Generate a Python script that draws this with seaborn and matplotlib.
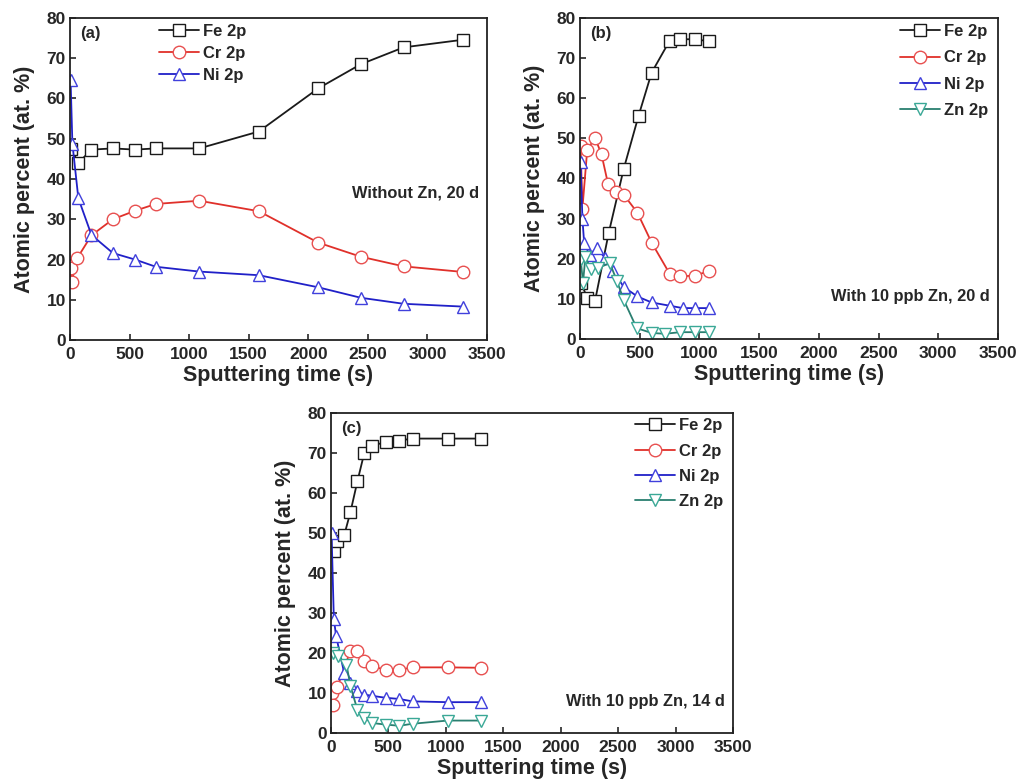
import matplotlib
matplotlib.use("Agg")
import matplotlib.pyplot as plt
import seaborn as sns

sns.set_style("ticks")
plt.rcParams['font.family'] = ['Liberation Sans', 'DejaVu Sans']
plt.rcParams['font.weight'] = 'bold'
plt.rcParams['axes.labelweight'] = 'bold'
plt.rcParams['xtick.direction'] = 'in'
plt.rcParams['ytick.direction'] = 'in'

# ---------------- data ----------------
# Panel (a): without Zn, 20 d
a_fe_t = [10, 70, 180, 360, 545, 720, 1085, 1585, 2083, 2440, 2800, 3300]
a_fe_v = [47.5, 44.0, 47.3, 47.6, 47.3, 47.6, 47.6, 51.8, 62.5, 68.5, 72.7, 74.6]
a_cr_t = [5, 15, 60, 180, 360, 545, 720, 1085, 1585, 2083, 2440, 2800, 3300]
a_cr_v = [18.0, 14.5, 20.3, 26.0, 30.0, 32.1, 33.8, 34.6, 32.0, 24.2, 20.7, 18.3, 16.9]
a_ni_t = [5, 20, 70, 180, 360, 545, 720, 1085, 1585, 2083, 2440, 2800, 3300]
a_ni_v = [64.5, 48.8, 35.2, 26.1, 21.6, 20.0, 18.2, 17.0, 16.1, 13.1, 10.5, 9.0, 8.3]

# Panel (b): with 10 ppb Zn, 20 d
b_fe_t = [10, 60, 125, 240, 365, 490, 600, 750, 840, 960, 1080]
b_fe_v = [14.0, 10.2, 9.4, 26.4, 42.3, 55.6, 66.4, 74.3, 74.7, 74.7, 74.2]
b_cr_t = [5, 20, 60, 125, 180, 235, 300, 365, 480, 600, 750, 840, 960, 1080]
b_cr_v = [48.0, 32.5, 47.0, 50.2, 46.0, 38.6, 36.7, 36.0, 31.5, 24.0, 16.3, 15.6, 15.8, 16.9]
b_ni_t = [5, 20, 35, 80, 140, 210, 280, 365, 480, 600, 750, 860, 960, 1080]
b_ni_v = [44.0, 30.0, 23.8, 21.0, 22.7, 20.2, 16.9, 13.0, 10.6, 9.1, 8.3, 7.7, 7.7, 7.7]
b_zn_t = [5, 25, 45, 90, 150, 250, 310, 365, 475, 600, 710, 840, 960, 1080]
b_zn_v = [20.0, 14.0, 20.5, 17.5, 17.7, 18.9, 14.4, 9.8, 2.7, 1.5, 1.3, 1.7, 1.7, 1.7]

# Panel (c): with 10 ppb Zn, 14 d
c_fe_t = [25, 55, 115, 170, 230, 290, 355, 475, 595, 710, 1015, 1305]
c_fe_v = [45.4, 47.9, 49.4, 55.3, 62.9, 70.0, 71.7, 72.8, 73.1, 73.6, 73.6, 73.6]
c_cr_t = [5, 20, 55, 170, 230, 290, 355, 475, 595, 710, 1015, 1305]
c_cr_v = [10.0, 7.1, 11.4, 20.6, 20.6, 17.9, 16.7, 15.8, 15.8, 16.4, 16.4, 16.3]
c_ni_t = [5, 25, 45, 115, 170, 230, 290, 355, 475, 595, 710, 1015, 1305]
c_ni_v = [50.0, 28.5, 24.2, 15.0, 12.5, 10.4, 9.6, 9.3, 8.8, 8.5, 7.9, 7.7, 7.7]
c_zn_t = [15, 65, 135, 170, 230, 290, 355, 475, 595, 710, 1015, 1305]
c_zn_v = [20.0, 19.2, 17.1, 11.7, 5.8, 3.8, 2.5, 2.1, 1.8, 2.3, 3.1, 3.1]

labels = ["Fe 2p", "Cr 2p", "Ni 2p", "Zn 2p"]
x_ticks = [0, 500, 1000, 1500, 2000, 2500, 3000, 3500]
y_ticks = [0, 10, 20, 30, 40, 50, 60, 70, 80]

styles = {
    "Fe 2p": dict(color="#1a1a1a", marker="s", mec="#1a1a1a"),
    "Cr 2p": dict(color="#e0302a", marker="o", mec="#e85050"),
    "Ni 2p": dict(color="#2020c8", marker="^", mec="#4040dc"),
    "Zn 2p": dict(color="#2a7f70", marker="v", mec="#3aa896"),
}

fig = plt.figure(figsize=(10.19, 7.82), dpi=100)
ax_a = fig.add_axes([0.0687, 0.5652, 0.4092, 0.4118])
ax_b = fig.add_axes([0.5692, 0.5665, 0.4102, 0.4105])
ax_c = fig.add_axes([0.3248, 0.0627, 0.3945, 0.4092])

panels = [
    (ax_a, [(a_fe_t, a_fe_v), (a_cr_t, a_cr_v), (a_ni_t, a_ni_v)], "(a)",
     "Without Zn, 20 d", 36.5,
     dict(loc="upper left", bbox_to_anchor=(0.19, 1.012), labelspacing=0.42)),
    (ax_b, [(b_fe_t, b_fe_v), (b_cr_t, b_cr_v), (b_ni_t, b_ni_v), (b_zn_t, b_zn_v)], "(b)",
     "With 10 ppb Zn, 20 d", 10.7,
     dict(loc="upper right", bbox_to_anchor=(1.0, 1.012), labelspacing=0.68)),
    (ax_c, [(c_fe_t, c_fe_v), (c_cr_t, c_cr_v), (c_ni_t, c_ni_v), (c_zn_t, c_zn_v)], "(c)",
     "With 10 ppb Zn, 14 d", 7.8,
     dict(loc="upper right", bbox_to_anchor=(1.0, 1.015), labelspacing=0.62)),
]

for ax, series, tag, note, note_y, legkw in panels:
    for (t, v), lab in zip(series, labels):
        st = styles[lab]
        sns.lineplot(x=t, y=v, ax=ax, color=st["color"], marker=st["marker"],
                     markersize=9, markerfacecolor="white", markeredgecolor=st["mec"],
                     markeredgewidth=1.0, linewidth=1.3, label=lab,
                     estimator=None, sort=False)
    ax.set_xlim(0, 3500)
    ax.set_ylim(0, 80)
    ax.set_xticks(x_ticks)
    ax.set_yticks(y_ticks)
    ax.tick_params(axis="both", labelsize=12.5, length=4, width=1.2,
                   top=False, right=False)
    ax.tick_params(axis="x", pad=5)
    ax.tick_params(axis="y", pad=3)
    for lbl in ax.get_xticklabels() + ax.get_yticklabels():
        lbl.set_fontweight("bold")
    for sp in ax.spines.values():
        sp.set_linewidth(1.3)
        sp.set_visible(True)
        sp.set_color("#222222")
    ax.set_xlabel("Sputtering time (s)", fontsize=15.5, fontweight="bold", labelpad=2)
    ax.set_ylabel("Atomic percent (at. %)", fontsize=15.5, fontweight="bold", labelpad=8)
    ax.text(0.025, 0.975, tag, transform=ax.transAxes, ha="left", va="top",
            fontsize=12, fontweight="bold")
    ax.text(0.98, note_y, note, transform=ax.get_yaxis_transform(), ha="right",
            va="center", fontsize=11.8, fontweight="bold")
    ax.legend(frameon=False, fontsize=12, handlelength=2.4, handletextpad=0.2,
              borderaxespad=0.2, **legkw)

fig.savefig("out.png", dpi=100)
